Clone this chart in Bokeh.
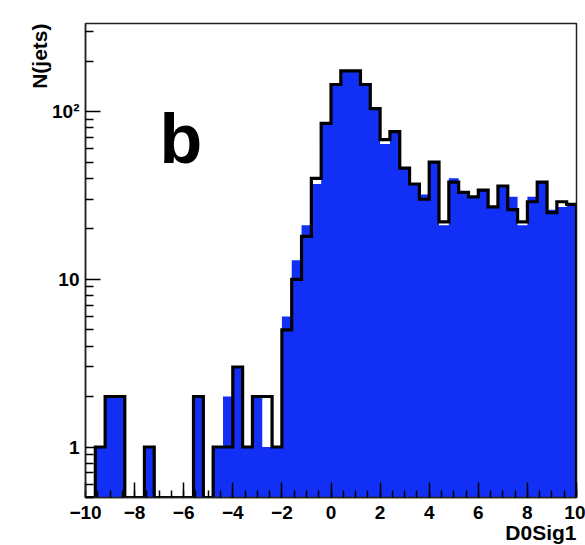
import numpy as np
from bokeh.plotting import figure
from bokeh.models import Range1d, FixedTicker, CustomJSTickFormatter, Label, Title
from bokeh.embed import file_html
from bokeh.resources import INLINE

# ---------------- data ----------------
x_lo = -10.0
x_hi = 10.0
n_bins = 50
data_counts = [0, 1, 2, 2, 0, 0, 1, 0, 0, 0, 0, 2, 0, 1, 1, 3, 1, 2, 2, 1,
               5, 10, 18, 40, 85, 145, 175, 175, 145, 104, 68, 76, 46, 37, 30, 50, 22, 38, 33, 31,
               34, 27, 36, 26, 22, 29, 38, 25, 29, 28]
mc_counts = [0, 1, 2, 2, 0, 0, 1, 0, 0, 0, 0, 2, 0, 1, 2, 3, 1, 2, 1, 1,
             6, 13, 21, 37, 85, 145, 175, 175, 145, 104, 64, 76, 46, 37, 32, 50, 21, 40, 33, 31,
             34, 27, 36, 31, 21, 31, 38, 26, 27, 28]
x_ticks = [-10, -8, -6, -4, -2, 0, 2, 4, 6, 8, 10]
y_ticks = [1, 10, 100]
y_tick_labels = ["1", "10", "10\u00b2"]
x_title = "D0Sig1"
y_title = "N(jets)"
panel_tag = "b"

# ---------------- geometry ----------------
y_min, y_max = 0.5, 335.0
edges = np.linspace(x_lo, x_hi, n_bins + 1)
data_arr = np.array(data_counts, dtype=float)
mc_arr = np.array(mc_counts, dtype=float)


def step_outline(values):
    v = np.where(values > 0, values, y_min)
    xs = [edges[0]]
    ys = [y_min]
    for i in range(n_bins):
        xs += [edges[i], edges[i + 1]]
        ys += [v[i], v[i]]
    xs.append(edges[-1])
    ys.append(y_min)
    return xs, ys


p = figure(width=585, height=545,
           x_range=Range1d(x_lo, x_hi), y_range=Range1d(y_min, y_max),
           y_axis_type="log", output_backend="svg", toolbar_location=None,
           min_border_left=85, min_border_right=9, min_border_top=23, min_border_bottom=48)
p.background_fill_color = "white"
p.border_fill_color = "white"
p.outline_line_color = "#222222"
p.outline_line_width = 1.5
p.grid.visible = False

# filled histogram (single polygon, no seams)
fx, fy = step_outline(mc_arr)
p.patch(fx, fy, fill_color="#1230f5", line_color=None)

# data outline
lx, ly = step_outline(data_arr)
p.line(lx, ly, line_color="black", line_width=3.2, line_join="miter")

# axes
font = "Liberation Sans"
p.xaxis.ticker = FixedTicker(ticks=x_ticks, minor_ticks=list(np.arange(x_lo, x_hi + 0.01, 0.5)))
minor_y = [0.5, 0.6, 0.7, 0.8, 0.9] + list(range(2, 10)) + list(range(20, 100, 10)) + [200, 300]
p.yaxis.ticker = FixedTicker(ticks=y_ticks, minor_ticks=minor_y)
p.yaxis.formatter = CustomJSTickFormatter(
    args=dict(tv=y_ticks, tl=y_tick_labels),
    code="const i = tv.indexOf(Math.round(tick)); return i >= 0 ? tl[i] : String(tick);")

for ax in (p.xaxis[0], p.yaxis[0]):
    ax.major_tick_out = 0
    ax.minor_tick_out = 0
    ax.major_tick_line_color = "black"
    ax.minor_tick_line_color = "black"
    ax.major_tick_line_width = 1.5
    ax.minor_tick_line_width = 1.5
    ax.axis_line_color = "#222222"
    ax.axis_line_width = 1.5
    ax.major_label_text_font = font
    ax.major_label_text_font_style = "bold"
    ax.major_label_text_font_size = "19px"
    ax.major_label_text_color = "black"
p.xaxis.major_tick_in = 15
p.xaxis.minor_tick_in = 7
p.yaxis.major_tick_in = 15
p.yaxis.minor_tick_in = 8
p.xaxis.major_label_standoff = 8
p.yaxis.major_label_standoff = 6

p.add_layout(Title(text=x_title, align="right", text_font=font, text_font_style="bold",
                   text_font_size="21px", text_color="black", standoff=-6), "below")
p.add_layout(Title(text=y_title, align="right", text_font=font, text_font_style="bold",
                   text_font_size="21px", text_color="black", standoff=-2), "left")
p.add_layout(Label(x=74, y=359, x_units="screen", y_units="screen", text=panel_tag,
                   text_font=font, text_font_style="bold", text_font_size="70px",
                   text_align="left", text_baseline="alphabetic", text_color="black"))

open("out.html", "w").write(file_html(p, INLINE))
